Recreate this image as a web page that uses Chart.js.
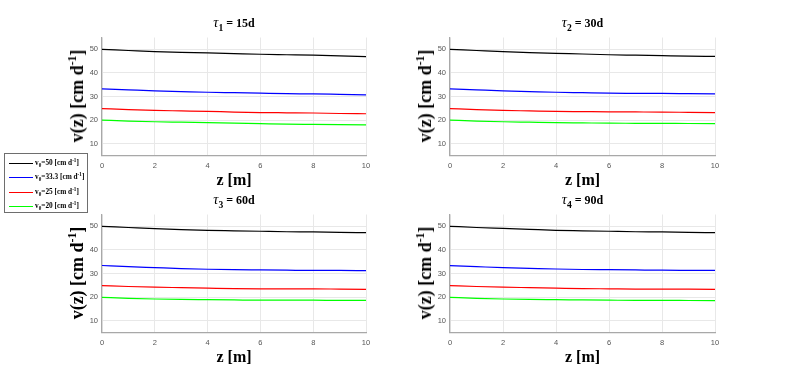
<!DOCTYPE html>
<html>
<head>
<meta charset="utf-8">
<script src="https://cdn.jsdelivr.net/npm/chart.js@4/dist/chart.umd.min.js"></script>
<style>
  html,body{margin:0;padding:0;background:#fff;}
  body{width:789px;height:375px;position:relative;overflow:hidden;font-family:"Liberation Serif","Times New Roman",serif;}
  .box{position:absolute;}
  .t{position:absolute;white-space:nowrap;font-weight:bold;color:#000;line-height:1;transform:translate(-50%,-50%);}
  .t sub{font-size:80%;vertical-align:-0.4em;line-height:0;}
  .t sup{font-size:65%;vertical-align:0.6em;line-height:0;}
  .t .tau{font-size:120%;font-style:italic;font-weight:normal;}
  .yl{transform:translate(-50%,-50%) rotate(-90deg);}
  #legend{position:absolute;left:4px;top:153px;width:82px;height:58px;border:1px solid #6e6e6e;background:#fff;}
  .sw{position:absolute;left:4px;width:24px;height:1px;}
  .li{position:absolute;left:30px;height:10px;font-size:7.3px;font-weight:bold;white-space:nowrap;line-height:10px;}
  .li sub{font-size:70%;vertical-align:-0.3em;line-height:0;}
  .li sup{font-size:70%;vertical-align:0.5em;line-height:0;}
</style>
</head>
<body>
<script>
// ---- data ----
const zValues = [0,1,2,3,4,5,6,7,8,9,10];
const yTickValues = [10,20,30,40,50];
const xTickValues = [0,2,4,6,8,10];
const panelTitles = [["1","15d"],["2","30d"],["3","60d"],["4","90d"]];
const seriesLabels = ["50","33.3","25","20"];
const seriesColors = ["#000000","#0000ff","#ff0000","#00ff00"];

// tau1 = 15d
const t1_v50   = [50.0,49.5,49.0,48.7,48.5,48.2,47.9,47.7,47.5,47.2,46.9];
const t1_v33   = [33.2,32.8,32.4,32.1,31.8,31.6,31.4,31.2,31.1,30.9,30.7];
const t1_v25   = [24.9,24.4,24.1,23.9,23.7,23.4,23.2,23.1,23.0,22.8,22.7];
const t1_v20   = [20.0,19.6,19.3,19.1,18.9,18.7,18.5,18.3,18.2,18.1,18.0];
// tau2 = 30d
const t2_v50   = [50.0,49.5,49.0,48.6,48.3,48.0,47.7,47.5,47.3,47.1,47.0];
const t2_v33   = [33.2,32.8,32.4,32.1,31.8,31.6,31.4,31.35,31.3,31.2,31.1];
const t2_v25   = [24.9,24.4,24.1,23.9,23.7,23.6,23.5,23.45,23.4,23.3,23.2];
const t2_v20   = [20.0,19.6,19.3,19.1,18.9,18.8,18.7,18.65,18.6,18.55,18.5];
// tau3 = 60d
const t3_v50   = [50.0,49.5,49.0,48.6,48.3,48.1,47.9,47.7,47.6,47.4,47.3];
const t3_v33   = [33.4,32.9,32.5,32.1,31.8,31.6,31.5,31.4,31.3,31.3,31.2];
const t3_v25   = [24.9,24.5,24.2,24.0,23.8,23.6,23.5,23.5,23.5,23.4,23.3];
const t3_v20   = [19.9,19.5,19.2,19.0,18.9,18.8,18.7,18.7,18.7,18.6,18.6];
// tau4 = 90d
const t4_v50   = [50.0,49.5,49.1,48.7,48.3,48.1,47.9,47.7,47.6,47.4,47.3];
const t4_v33   = [33.3,32.9,32.5,32.2,31.9,31.7,31.6,31.5,31.4,31.35,31.3];
const t4_v25   = [24.9,24.5,24.2,24.0,23.8,23.6,23.5,23.4,23.4,23.35,23.3];
const t4_v20   = [19.9,19.5,19.2,19.0,18.9,18.8,18.7,18.6,18.6,18.55,18.5];

const panelSeries = [
  [t1_v50,t1_v33,t1_v25,t1_v20],
  [t2_v50,t2_v33,t2_v25,t2_v20],
  [t3_v50,t3_v33,t3_v25,t3_v20],
  [t4_v50,t4_v33,t4_v25,t4_v20]
];

// ---- layout (plot-area rectangles) ----
const plotRects = [
  {L:102,T:37,R:366,B:155},
  {L:450,T:37,R:715,B:155},
  {L:102,T:214,R:366,B:332},
  {L:450,T:214,R:715,B:332}
];
const YW=30, XH=20, PT=5, PR=10;

function addText(html, x, y, size, cls){
  const d=document.createElement('div');
  d.className='t '+(cls||'');
  d.style.left=x+'px'; d.style.top=y+'px'; d.style.fontSize=size+'px';
  d.innerHTML=html;
  document.body.appendChild(d);
}

plotRects.forEach((r,i)=>{
  const box=document.createElement('div');
  box.className='box';
  let bl=r.L-YW, bt=r.T-PT, w=(r.R-r.L)+YW+PR, h=(r.B-r.T)+PT+XH;
  box.style.left=bl+'px'; box.style.top=bt+'px';
  box.style.width=w+'px'; box.style.height=h+'px';
  const c=document.createElement('canvas');
  box.appendChild(c);
  document.body.appendChild(box);

  const chart = new Chart(c,{
    type:'line',
    data:{
      datasets: panelSeries[i].map((vals,k)=>({
        label:'v0='+seriesLabels[k],
        data: zValues.map((z,j)=>({x:z,y:vals[j]})),
        borderColor:seriesColors[k],
        borderWidth:1.2,
        pointRadius:0,
        fill:false,
        cubicInterpolationMode:'monotone'
      }))
    },
    options:{
      responsive:true, maintainAspectRatio:false, animation:false,
      layout:{padding:{left:0,top:PT,right:PR,bottom:0}},
      plugins:{legend:{display:false},tooltip:{enabled:false}},
      scales:{
        x:{type:'linear',min:0,max:10,
          afterBuildTicks:a=>{a.ticks=xTickValues.map(v=>({value:v}));},
          afterFit:a=>{a.height=XH;},
          grid:{color:'#e8e8e8',lineWidth:1,drawTicks:false},
          border:{display:true,color:'#a8a8a8',width:1.2},
          ticks:{font:{family:'"Liberation Sans", Arial, sans-serif',size:7.5},color:'#555555',padding:6,maxRotation:0}
        },
        y:{type:'linear',min:5,max:55,
          afterBuildTicks:a=>{a.ticks=yTickValues.map(v=>({value:v}));},
          afterFit:a=>{a.width=YW;},
          grid:{color:'#e8e8e8',lineWidth:1,drawTicks:false},
          border:{display:true,color:'#a8a8a8',width:1.2},
          ticks:{font:{family:'"Liberation Sans", Arial, sans-serif',size:7.5},color:'#555555',padding:4}
        }
      }
    }
  });

  // align the drawn plot area with the target rectangle
  const ca = chart.chartArea;
  const dTop = ca.top - PT, dLeft = ca.left - YW;
  const dRight = (w-PR) - ca.right, dBottom = (h-XH) - ca.bottom;
  if (dTop||dLeft||dRight||dBottom){
    bl -= dLeft; bt -= dTop; w += dLeft+dRight; h += dTop+dBottom;
    box.style.left=bl+'px'; box.style.top=bt+'px';
    box.style.width=w+'px'; box.style.height=h+'px';
    chart.resize(w,h);
  }

  const cx=(r.L+r.R)/2;
  addText('<span class="tau">&tau;</span><sub>'+panelTitles[i][0]+'</sub> = '+panelTitles[i][1], cx, r.T-15, 12);
  addText('z [m]', cx, r.B+25, 16);
  addText('v(z) [cm d<sup>-1</sup>]', r.L-25, (r.T+r.B)/2, 18, 'yl');
});

// legend
const lg=document.createElement('div'); lg.id='legend';
document.body.appendChild(lg);
seriesLabels.forEach((s,k)=>{
  const top = 4 + Math.round(k*14.3);
  const sw=document.createElement('div'); sw.className='sw';
  sw.style.top=(top+5)+'px'; sw.style.background=seriesColors[k];
  lg.appendChild(sw);
  const d=document.createElement('div'); d.className='li';
  d.style.top=top+'px';
  d.innerHTML='v<sub>0</sub>='+s+' [cm d<sup>-1</sup>]';
  lg.appendChild(d);
});
</script>
</body>
</html>
